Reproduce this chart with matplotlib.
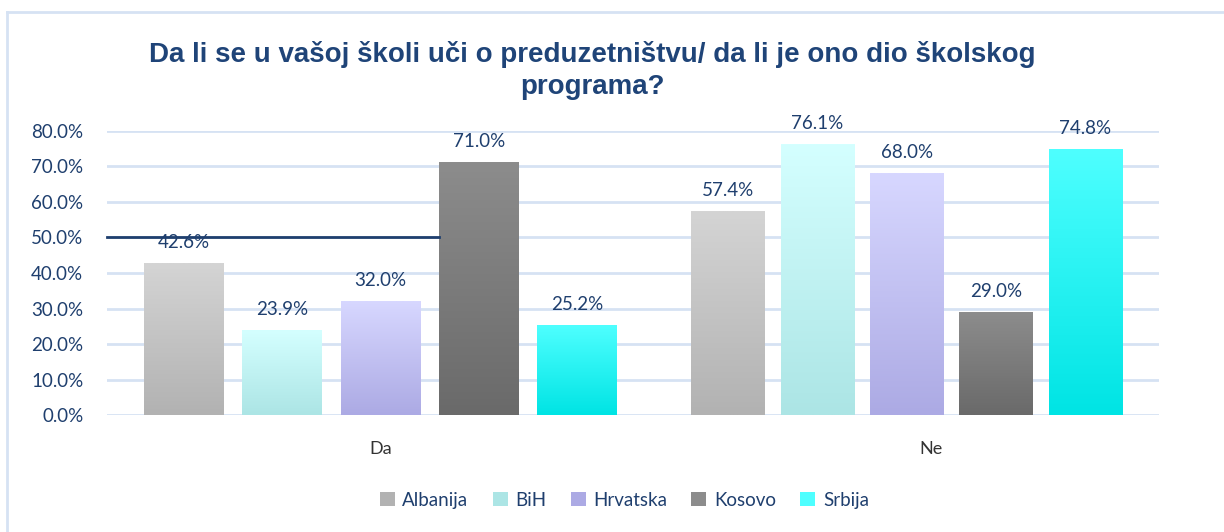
import numpy as np
import matplotlib
matplotlib.use('Agg')
from matplotlib import pyplot as plt
from matplotlib.patches import Patch
from matplotlib.colors import LinearSegmentedColormap

categories = ['Da', 'Ne']
countries = ['Albanija', 'BiH', 'Hrvatska', 'Kosovo', 'Srbija']
albanija = [0.426, 0.574]
bih = [0.239, 0.761]
hrvatska = [0.320, 0.680]
kosovo = [0.710, 0.290]
srbija = [0.252, 0.748]
y_ticks = [0.0, 0.1, 0.2, 0.3, 0.4, 0.5, 0.6, 0.7, 0.8]
marker_line_y = 0.5

series = [albanija, bih, hrvatska, kosovo, srbija]
# (top colour, bottom colour) of each bar gradient
gradients = [('#d4d4d4', '#b2b2b2'), ('#d4ffff', '#ace5e5'), ('#d7d7ff', '#acaae4'),
             ('#8c8c8c', '#6a6a6a'), ('#4effff', '#00e4e4')]
navy = '#1f3f6e'
grid_color = '#d6e2f3'

plt.rcParams['font.family'] = ['Lato', 'DejaVu Sans']

fig = plt.figure(figsize=(12.24, 5.32), dpi=100)
ax = fig.add_axes([0.0874, 0.2199, 0.8596, 0.5339])

x = np.arange(len(categories))
# the second group is drawn a bit narrower in the original
widths = np.array([0.152, 0.139])
pitches = np.array([0.187, 0.170])

kosovo_left = None
for i, (vals, (top, bottom)) in enumerate(zip(series, gradients)):
    pos = x + (i - 2) * pitches
    bars = ax.bar(pos, vals, widths, color='none', edgecolor='none', zorder=2)
    cmap = LinearSegmentedColormap.from_list(countries[i], [bottom, top])
    for bar, v in zip(bars, vals):
        x0 = bar.get_x()
        grad = np.linspace(0, 1, 100).reshape(-1, 1)
        ax.imshow(grad, cmap=cmap, origin='lower', aspect='auto',
                  extent=(x0, x0 + bar.get_width(), 0, v), zorder=2)
        ax.annotate(f'{v * 100:.1f}%', (bar.get_x() + bar.get_width() / 2, v),
                    xytext=(0, 9), textcoords='offset points', ha='center', va='bottom',
                    fontsize=13.5, color=navy, annotation_clip=False)
    if countries[i] == 'Kosovo':
        kosovo_left = bars[0].get_x()

# stray dark line across the left group at 50%
ax.plot([-0.52, kosovo_left], [marker_line_y, marker_line_y], color=navy, lw=2, zorder=3,
        clip_on=False)

ax.set_xlim(-0.52, 1.48)
ax.set_ylim(0, 0.8)
ax.set_yticks(y_ticks)
ax.set_yticklabels([f'{t * 100:.1f}%' for t in y_ticks])
ax.set_xticks([0, 1.047])
ax.set_xticklabels(categories)
ax.tick_params(axis='y', length=0, pad=17, labelsize=13.5, labelcolor=navy)
ax.tick_params(axis='x', length=0, pad=19, labelsize=13, labelcolor='#333333')
ax.grid(axis='y', color=grid_color, lw=2, zorder=0)
ax.set_axisbelow(True)
for s in ax.spines.values():
    s.set_visible(False)

fig.text(0.484, 0.868, 'Da li se u vašoj školi uči o preduzetništvu/ da li je ono dio školskog\nprograma?',
         ha='center', va='center', fontsize=20, fontweight='bold', color='#1f4478',
         family='Liberation Sans', linespacing=1.3)

handles = [Patch(facecolor=top if i in (3, 4) else bottom, edgecolor='none')
           for i, (top, bottom) in enumerate(gradients)]
fig.legend(handles, countries, loc='center', bbox_to_anchor=(0.51, 0.06), ncol=5, frameon=False,
           fontsize=13.5, labelcolor=navy, handlelength=0.8, handleheight=0.8, handletextpad=0.4,
           columnspacing=1.3)

# light chart-area border (left and top)
fig.add_artist(plt.Line2D([7 / 1224, 7 / 1224], [0, 1 - 12 / 532], color=grid_color, lw=2))
fig.add_artist(plt.Line2D([7 / 1224, 1], [1 - 12 / 532, 1 - 12 / 532], color=grid_color, lw=2))

fig.savefig('out.png', dpi=100)
